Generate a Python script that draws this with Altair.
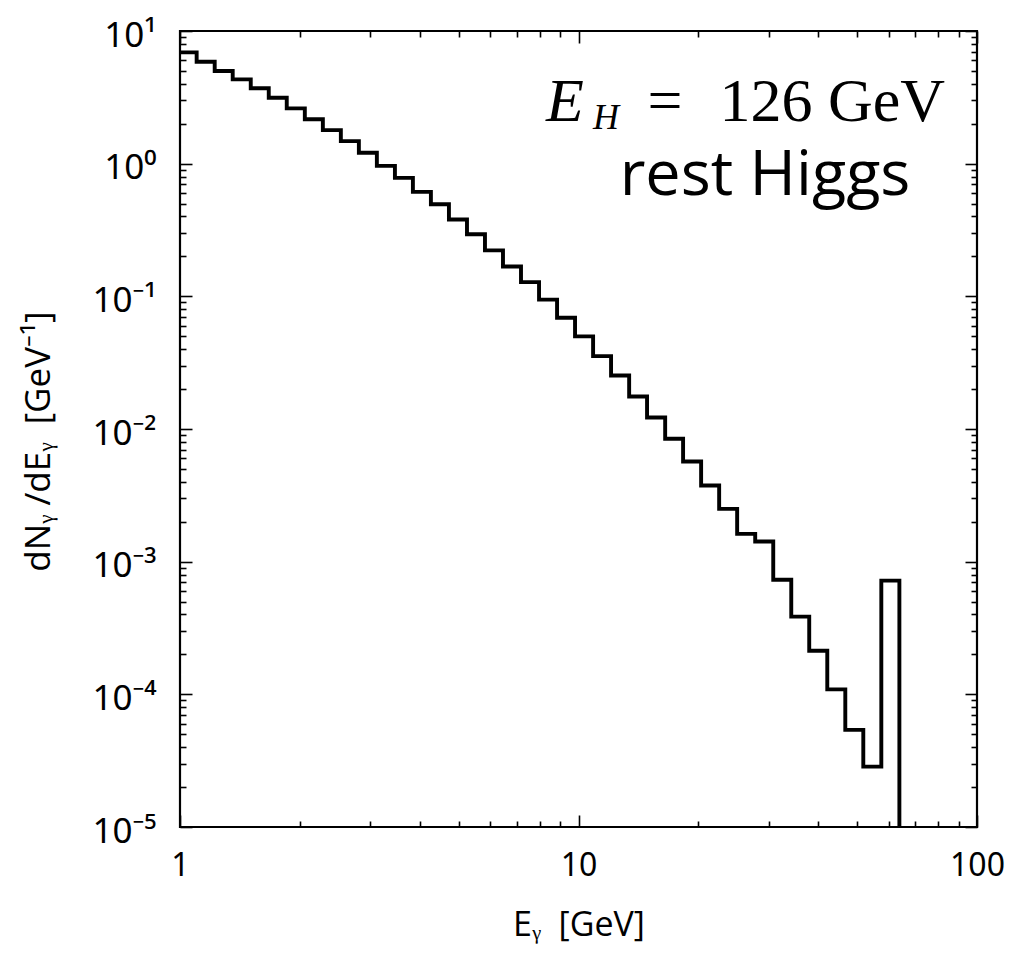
import altair as alt
import pandas as pd

# ---- data ----
# lower bin edges of the photon-energy histogram [GeV]
bin_low = [0.99, 1.101, 1.222, 1.356, 1.505, 1.670, 1.853, 2.057, 2.283, 2.533,
           2.811, 3.119, 3.462, 3.841, 4.262, 4.730, 5.250, 5.825, 6.464, 7.173,
           7.961, 8.835, 9.802, 10.88, 12.07, 13.40, 14.86, 16.50, 18.30, 20.31,
           22.54, 25.01, 27.76, 30.81, 34.19, 37.93, 42.10, 46.72, 51.84, 57.53]
last_edge = 63.86
# dN/dE per bin [1/GeV]
dnde = [6.90, 5.86, 4.99, 4.32, 3.70, 3.14, 2.61, 2.16, 1.79, 1.48,
        1.21, 0.962, 0.782, 0.613, 0.494, 0.379, 0.294, 0.222, 0.168, 0.128,
        0.0944, 0.0690, 0.0499, 0.0354, 0.0253, 0.0176, 0.0122, 0.00844, 0.00569, 0.00375,
        0.00250, 0.00162, 0.00142, 0.000731, 0.000385, 0.000213, 0.000109, 5.40e-5, 2.85e-5, 7.19e-4]
zero_level = 1e-7  # spectrum is empty above the last edge (drawn below the axis, clipped)

x_major = [1, 10, 100]
x_minor = [2, 3, 4, 5, 6, 7, 8, 9, 20, 30, 40, 50, 60, 70, 80, 90]
y_major = [1e-5, 1e-4, 1e-3, 1e-2, 1e-1, 1, 10]
y_minor = [m * 10.0 ** e for e in range(-5, 1) for m in range(2, 10)]
y_label_text = ["10⁻⁵", "10⁻⁴", "10⁻³", "10⁻²", "10⁻¹", "10⁰", "10¹"]

NB = "\u00a0"
x_title = "Eᵧ" + NB * 2 + "[GeV]"
y_title = "dNᵧ" + NB + "/dEᵧ" + NB * 2 + "[GeV⁻¹]"
ann_E = ["E"]
ann_H = ["H"]
ann_eq = ["="]
ann_val = ["126 GeV"]
ann_rest = ["rest Higgs"]

df = pd.DataFrame({"E": bin_low + [last_edge], "dNdE": dnde + [zero_level]})

W, H = 797, 796
xs = alt.Scale(type="log", domain=[1, 100], nice=False)
ys = alt.Scale(type="log", domain=[1e-5, 10], nice=False)

label_expr = "[" + ",".join("'%s'" % t for t in y_label_text) + "][round(log(datum.value)/LN10)+5]"

main = alt.Chart(df).mark_line(
    interpolate="step-after", color="black", strokeWidth=3.9, clip=True
).encode(
    x=alt.X("E:Q", scale=xs, axis=alt.Axis(
        orient="bottom", values=x_major, format="d", ticks=False, tickSize=0,
        domain=False, grid=False, labelFont="Noto Sans", labelFontSize=32,
        labelColor="black", labelPadding=23, labelFlush=False,
        title=x_title, titleFont="Open Sans", titleFontSize=34, titleFontWeight="normal",
        titleColor="black", titleY=108, titleBaseline="alphabetic")),
    y=alt.Y("dNdE:Q", scale=ys, axis=alt.Axis(
        orient="left", values=y_major, labelExpr=label_expr, ticks=False, tickSize=0,
        domain=False, grid=False, labelFont="Noto Sans", labelFontSize=35,
        labelColor="black", labelPadding=24, labelFlush=False, labelOffset=4,
        title=y_title, titleFont="Open Sans", titleFontSize=35, titleFontWeight="normal",
        titleColor="black", titleX=-142, titleY=410, titleAngle=270,
        titleAlign="center", titleBaseline="middle")),
)


def tick_layer(xorient, yorient, xvals, yvals, size):
    return alt.Chart(df).mark_line(opacity=0, clip=True).encode(
        x=alt.X("E:Q", scale=xs, axis=alt.Axis(
            orient=xorient, values=xvals, tickSize=size, offset=-size, labels=False,
            domain=False, grid=False, title=None, tickColor="black", tickWidth=1.6)),
        y=alt.Y("dNdE:Q", scale=ys, axis=alt.Axis(
            orient=yorient, values=yvals, tickSize=size, offset=-size, labels=False,
            domain=False, grid=False, title=None, tickColor="black", tickWidth=1.6)),
    )


ticks = [
    tick_layer("bottom", "left", x_major, y_major, 12),
    tick_layer("bottom", "left", x_minor, y_minor, 6),
    tick_layer("top", "right", x_major, y_major, 12),
    tick_layer("top", "right", x_minor, y_minor, 6),
]


def text_layer(txt, x, y, **kw):
    return alt.Chart(pd.DataFrame({"t": txt})).mark_text(color="black", **kw).encode(
        x=alt.value(x), y=alt.value(y), text="t:N")


texts = [
    text_layer(ann_E, 366, 90, font="Liberation Serif", fontStyle="italic", fontSize=62,
               align="left", baseline="alphabetic"),
    text_layer(ann_H, 413, 98, font="Liberation Serif", fontStyle="italic", fontSize=36,
               align="left", baseline="alphabetic"),
    text_layer(ann_eq, 485, 90, font="Liberation Serif", fontSize=62,
               align="center", baseline="alphabetic"),
    text_layer(ann_val, 765, 90, font="Liberation Serif", fontSize=62,
               align="right", baseline="alphabetic"),
    text_layer(ann_rest, 585, 164, font="Open Sans", fontSize=63,
               align="center", baseline="alphabetic"),
]

chart = alt.layer(main, *ticks, *texts).resolve_axis(
    x="independent", y="independent"
).properties(
    width=W, height=H,
    autosize=alt.AutoSizeParams(type="none"),
    padding={"left": 172, "top": 23, "right": 28, "bottom": 118},
    background="white",
).configure_view(stroke="black", strokeWidth=2.2)

chart.save("out.html", embed_options={"renderer": "svg", "actions": False})
